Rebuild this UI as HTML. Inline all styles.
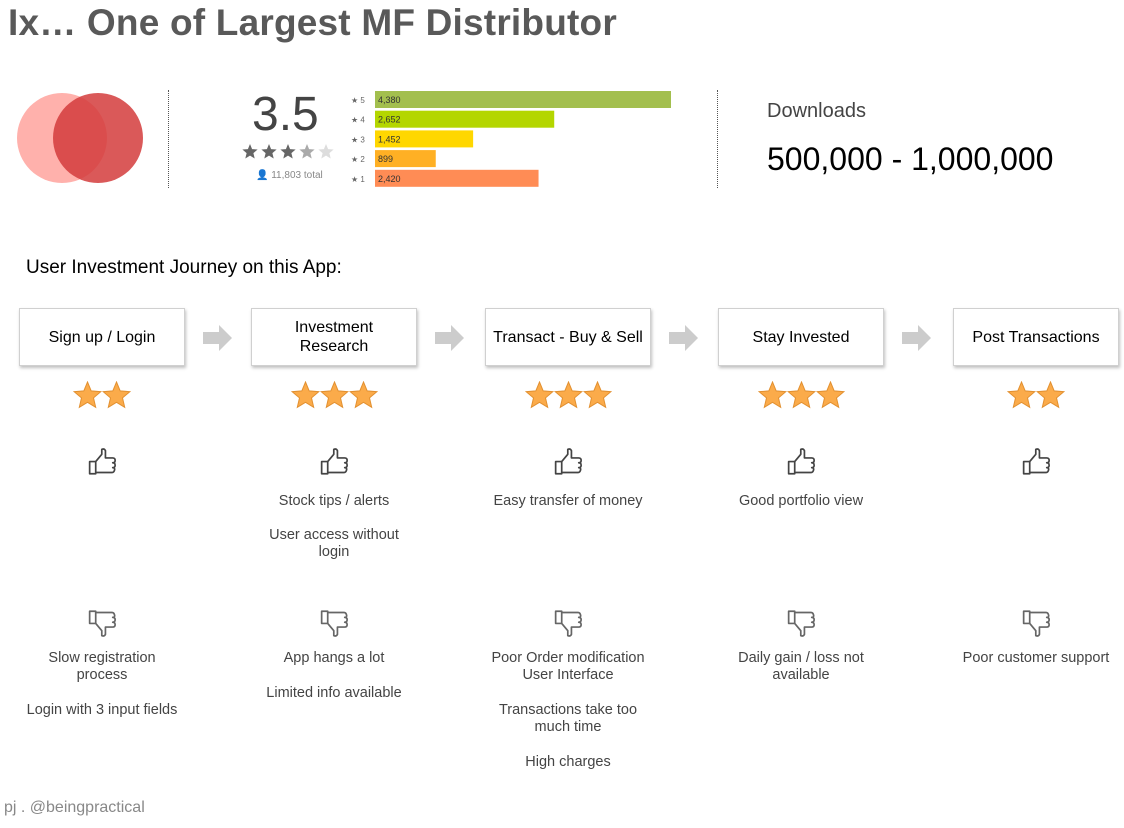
<!DOCTYPE html>
<html><head><meta charset="utf-8"><style>
body{margin:0;width:1124px;height:828px;background:#fff;font-family:"Liberation Sans",Arial,sans-serif;position:relative;overflow:hidden}
.a{position:absolute}
.box{position:absolute;top:308px;width:164px;height:56px;border:1px solid #d0d0d0;box-shadow:1px 2px 3px rgba(0,0,0,.25);display:flex;align-items:center;justify-content:center;text-align:center;font-size:16px;line-height:19px;color:#000}
.t{position:absolute;width:220px;text-align:center;font-size:14.5px;line-height:17px;color:#444}
.arrow{position:absolute;top:325px}
</style></head><body>
<div class="a" style="left:8px;top:2px;font-size:37px;font-weight:bold;color:#595959;letter-spacing:0.2px">Ix… One of Largest MF Distributor</div>
<svg class="a" style="left:15px;top:92px" width="132" height="94">
<circle cx="47" cy="46" r="45" fill="#ffa8a3" opacity=".9"/>
<circle cx="83" cy="46" r="45" fill="#d43c3c" opacity=".85"/>
</svg>
<div class="a" style="left:168px;top:90px;height:98px;border-left:1px dotted #555"></div>
<div class="a" style="left:717px;top:90px;height:98px;border-left:1px dotted #555"></div>
<div class="a" style="left:252px;top:87px;font-size:48px;font-weight:300;color:#444">3.5</div>
<svg class="a" style="left:240px;top:143px" width="100" height="18" id="rstars"></svg>
<div class="a" style="left:256px;top:170px;font-size:10px;color:#888">&#128100; 11,803 total</div>
<svg class="a" id="bars" style="left:345px;top:86px" width="340" height="106"></svg>
<div class="a" style="left:767px;top:100px;font-size:20px;color:#444">Downloads</div>
<div class="a" style="left:767px;top:141px;font-size:32px;color:#000">500,000 - 1,000,000</div>
<div class="a" style="left:26px;top:257px;font-size:19px;color:#000">User Investment Journey on this App:</div>
<div id="journey"></div>
<div class="a" style="left:4px;top:799px;font-size:16px;color:#888">pj . @beingpractical</div>
<script>
const ratingLabels=["5","4","3","2","1"];
const ratingCounts=[4380,2652,1452,899,2420];
const ratingTexts=["4,380","2,652","1,452","899","2,420"];
const colors=["#a3bf4e","#b4d600","#ffd700","#ffb024","#ff8c55"];
const NS="http://www.w3.org/2000/svg";
const bars=document.getElementById('bars');
const maxC=Math.max(...ratingCounts);const xs=v=>v/maxC*296;const ys=i=>5+i*19.7;
ratingCounts.forEach((v,i)=>{
 const r=document.createElementNS(NS,'rect');
 
 
 r.setAttribute('x',30);r.setAttribute('y',ys(i));r.setAttribute('width',xs(v));r.setAttribute('height',17);r.setAttribute('fill',colors[i]);bars.appendChild(r);
 const t=document.createElementNS(NS,'text');
 
 
 t.setAttribute('x',33);t.setAttribute('y',ys(i)+12);t.setAttribute('font-size','9');t.setAttribute('fill','#333');t.textContent=ratingTexts[i];bars.appendChild(t);
 const l=document.createElementNS(NS,'text');
 
 
 l.setAttribute('x',6);l.setAttribute('y',ys(i)+12);l.setAttribute('font-size','8');l.setAttribute('fill','#666');l.textContent='★ '+ratingLabels[i];bars.appendChild(l);
});
function starPts(cx,cy,R){let p=[];for(let k=0;k<10;k++){const r=k%2?R*0.45:R;const a=-Math.PI/2+k*Math.PI/5;p.push((cx+r*Math.cos(a)).toFixed(1)+','+(cy+r*Math.sin(a)).toFixed(1));}return p.join(' ');}
const rs=document.getElementById('rstars');
for(let k=0;k<5;k++){const p=document.createElementNS(NS,'polygon');p.setAttribute('points',starPts(10+k*19,9,8));p.setAttribute('fill',k<3?'#666':(k==3?'#aaa':'#ddd'));rs.appendChild(p);}
const steps=["Sign up / Login","Investment<br>Research","Transact - Buy &amp; Sell","Stay Invested","Post Transactions"];
const stepStars=[2,3,3,3,2];
const pros=[[],["Stock tips / alerts","User access without<br>login"],["Easy transfer of money"],["Good portfolio view"],[]];
const cons=[["Slow registration<br>process","Login with 3 input fields"],["App hangs a lot","Limited info available"],["Poor Order modification<br>User Interface","Transactions take too<br>much time","High charges"],["Daily gain / loss not<br>available"],["Poor customer support"]];
const centers=[102,334,568,801,1036];
const J=document.getElementById('journey');
const up='<path d="M3 12 h5 v10 h-5 z M8 12 l5 -6 v-4 q2 -1 3 1 v6 h6 q2 0 2 2 q0 2 -2 2 q2 0 2 2 q0 2 -2 2 q2 0 1.5 2 q-0.5 2 -2 2 h-13" fill="none" stroke="#444" stroke-width="1.4" stroke-linejoin="round"/>';
let h='';
centers.forEach((c,i)=>{
 h+=`<div class="box" style="left:${c-83}px">${steps[i]}</div>`;
 let sv=`<svg class="a" style="left:${c-stepStars[i]*14.5}px;top:381px" width="${stepStars[i]*29}" height="30">`;
 for(let k=0;k<stepStars[i];k++)sv+=`<polygon points="${starPts(14.5+k*29,15,14)}" fill="#fbab4a" stroke="#e29030" stroke-width="1"/>`;
 h+=sv+'</svg>';
 h+=`<svg class="a" style="left:${c-16}px;top:447px" width="34" height="34" viewBox="0 0 28 28">${up}</svg>`;
 h+=`<svg class="a" style="left:${c-16}px;top:604px" width="34" height="34" viewBox="0 0 28 28"><g transform="translate(0,28) scale(1,-1)">${up.replace('#444','#666')}</g></svg>`;
 let y=493;pros[i].forEach(p=>{h+=`<div class="t" style="left:${c-110}px;top:${y}px">${p}</div>`;y+=p.includes('<br>')?51:34;});
 y=650;cons[i].forEach(p=>{h+=`<div class="t" style="left:${c-110}px;top:${y}px">${p}</div>`;y+=p.includes('<br>')?52:35;});
 if(i<4)h+=`<svg class="arrow" style="left:${c+101}px" width="30" height="26"><polygon points="0,7 16,7 16,0 29,13 16,26 16,19 0,19" fill="#ccc"/></svg>`;
});
J.innerHTML=h;
</script>
</body></html>
